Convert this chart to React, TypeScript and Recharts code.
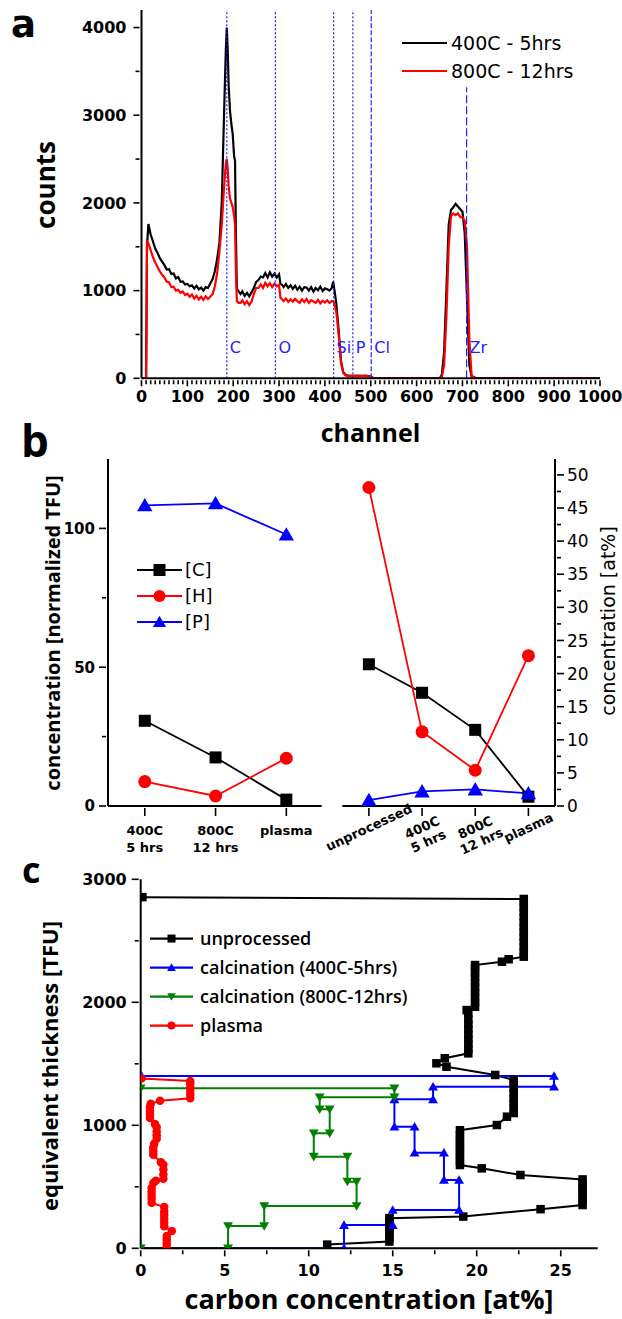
import React from 'react';
import { LineChart, Line, XAxis, YAxis, ReferenceLine, Legend } from 'recharts';

const TICK_FONT = "'DejaVu Sans', sans-serif";
const TITLE_FONT = "'Open Sans', sans-serif";

// ---------- panel a: spectrum ----------
const channels = [
  0, 10, 12, 15, 20, 25, 30, 35, 40, 45,
  50, 55, 60, 65, 70, 75, 80, 85, 90, 95,
  100, 105, 110, 115, 120, 125, 130, 135, 140, 145,
  150, 155, 160, 165, 170, 175, 178, 181, 184, 186,
  188, 190, 193, 196, 199, 202, 204, 206, 208, 212,
  216, 220, 225, 230, 235, 240, 245, 250, 255, 260,
  265, 270, 275, 280, 285, 290, 295, 300, 303, 306,
  310, 315, 320, 325, 330, 335, 340, 345, 350, 355,
  360, 365, 370, 375, 380, 385, 390, 395, 400, 405,
  410, 415, 418, 421, 425, 430, 435, 440, 445, 450,
  460, 470, 480, 490, 500, 505, 520, 640, 650, 655,
  660, 665, 670, 675, 680, 685, 690, 695, 700, 705,
  710, 715, 720, 730, 1000,
];
const counts400C = [
  0, 0, 1500, 1760, 1640, 1560, 1480, 1430, 1370, 1330,
  1290, 1240, 1245, 1190, 1195, 1140, 1155, 1100, 1105, 1070,
  1075, 1050, 1060, 1025, 1055, 1015, 1035, 1000, 1040, 1030,
  1080, 1130, 1220, 1360, 1550, 2000, 2600, 3200, 3750, 4000,
  3750, 3350, 3050, 2900, 2780, 2530, 2480, 1600, 1020, 990,
  960, 990, 940, 975, 935, 980, 1030, 1100, 1120, 1160,
  1150, 1200, 1150, 1210, 1160, 1195, 1150, 1185, 1080, 1070,
  1040, 1075, 1030, 1060, 1020, 1055, 1010, 1045, 1000, 1040,
  1035, 1000, 1040, 990, 1030, 1005, 1045, 995, 1025, 1015,
  1000, 1030, 1100, 1000, 850, 550, 200, 70, 40, 30,
  25, 30, 25, 30, 20, 5, 0, 0, 0, 40,
  300, 1000, 1750, 1920, 1950, 1990, 1960, 1930, 1900, 1650,
  900, 150, 20, 0, 0,
];
const counts800C = [
  0, 0, 1560, 1540, 1460, 1380, 1320, 1270, 1220, 1180,
  1150, 1100, 1095, 1040, 1045, 1000, 1010, 975, 990, 950,
  965, 930, 955, 910, 940, 900, 930, 895, 935, 905,
  930, 960, 1050, 1200, 1450, 1750, 2000, 2250, 2450, 2500,
  2400, 2200, 2050, 2000, 1950, 1850, 1750, 1200, 880, 860,
  860, 890, 845, 880, 835, 875, 960, 1030, 1030, 1070,
  1030, 1090, 1050, 1085, 1040, 1080, 1050, 1065, 920, 905,
  880, 910, 870, 900, 875, 905, 880, 860, 900, 870,
  905, 860, 890, 875, 860, 895, 855, 885, 865, 890,
  860, 880, 880, 850, 750, 500, 180, 60, 35, 25,
  30, 25, 30, 25, 20, 5, 0, 0, 0, 15,
  150, 700, 1500, 1850, 1880, 1860, 1880, 1840, 1830, 1800,
  1500, 450, 30, 0, 0,
];
const spectrumNames = ['400C - 5hrs', '800C - 12hrs'];
const elementLabels = ['C', 'O', 'Si', 'P', 'Cl', 'Zr'];
const elementChannels = [186, 292, 419, 461, 501, 709];
const channelTicks = Array.from({ length: 101 }, (_, i) => i * 10);
const countTicks = [0, 500, 1000, 1500, 2000, 2500, 3000, 3500, 4000];

// ---------- panel b: concentrations ----------
const treatments = [['400C', '5 hrs'], ['800C', '12 hrs'], ['plasma']];
const carbonTFU = [30.7, 17.5, 2.3];
const hydrogenTFU = [8.8, 3.6, 17.2];
const phosphorusTFU = [108.3, 109.0, 97.8];
const samples = [['unprocessed'], ['400C', '5 hrs'], ['800C', '12 hrs'], ['plasma']];
const carbonAt = [21.4, 17.1, 11.5, 1.4];
const hydrogenAt = [48.1, 11.2, 5.4, 22.7];
const phosphorusAt = [0.9, 2.2, 2.5, 1.9];
const elementNamesB = ['[C]', '[H]', '[P]'];
const tfuTicks = [0, 25, 50, 75, 100];
const atTicks = [0, 2.5, 5, 7.5, 10, 12.5, 15, 17.5, 20, 22.5, 25, 27.5, 30, 32.5, 35, 37.5, 40, 42.5, 45, 47.5, 50];

// ---------- panel c: depth profiles ----------
const unprocessedConc = [
  11.1, 14.8, 14.8, 14.8, 14.8, 14.8, 14.8, 14.8, 19.2, 23.8,
  26.3, 26.3, 26.3, 26.3, 26.3, 26.3, 26.3, 22.6, 20.3, 19.0,
  19.0, 19.0, 19.0, 19.0, 19.0, 19.0, 19.0, 19.0, 21.2, 21.8,
  22.2, 22.2, 22.2, 22.2, 22.2, 22.2, 22.2, 22.2, 21.1, 18.2,
  17.6, 18.1, 19.5, 19.5, 19.5, 19.5, 19.5, 19.5, 19.5, 19.5,
  19.5, 19.4, 19.9, 19.9, 19.9, 19.9, 19.9, 19.9, 19.9, 19.9,
  19.9, 19.9, 21.5, 21.9, 22.8, 22.8, 22.8, 22.8, 22.8, 22.8,
  22.8, 22.8, 22.8, 22.8, 22.8, 22.8, 22.8, 0.1,
];
const unprocessedDepth = [
  30, 55, 90, 120, 150, 180, 215, 245, 258, 318,
  352, 385, 420, 455, 490, 525, 560, 596, 650, 677,
  710, 745, 780, 815, 850, 885, 920, 960, 1002, 1070,
  1100, 1140, 1180, 1220, 1260, 1300, 1340, 1368, 1409, 1476,
  1504, 1545, 1585, 1620, 1660, 1700, 1740, 1780, 1820, 1860,
  1910, 1937, 1964, 2000, 2040, 2080, 2120, 2160, 2200, 2240,
  2275, 2303, 2330, 2350, 2371, 2410, 2450, 2490, 2530, 2570,
  2610, 2650, 2690, 2730, 2770, 2810, 2840, 2855,
];
const calc400Conc = [0, 12.1, 12.1, 15.0, 15.0, 18.95, 18.95, 18.05, 18.05, 16.3, 16.3, 15.1, 15.1, 17.4, 17.4, 24.6, 24.6, 0.05];
const calc400Depth = [0, 0, 189, 189, 311, 311, 555, 555, 777, 777, 989, 989, 1211, 1211, 1314, 1314, 1401, 1401];
const calc800Conc = [0, 5.2, 5.2, 7.35, 7.35, 12.85, 12.85, 12.3, 12.3, 10.3, 10.3, 11.25, 11.25, 10.65, 10.65, 15.1, 15.1, 0];
const calc800Depth = [0, 0, 181, 181, 344, 344, 542, 542, 745, 745, 935, 935, 1130, 1130, 1228, 1228, 1301, 1301];
const plasmaConc = [
  1.55, 1.55, 1.55, 1.55, 1.85, 1.4, 1.4, 1.4, 1.4, 1.4,
  1.4, 0.65, 0.65, 0.65, 0.65, 0.65, 0.75, 0.9, 1.35, 1.35,
  1.35, 1.35, 1.2, 0.75, 0.75, 0.75, 0.8, 0.95, 0.95, 0.95,
  0.95, 0.85, 0.55, 0.55, 0.55, 0.55, 0.6, 1.15, 2.95, 2.95,
  2.95, 2.95, 2.95, 2.95, 0.05,
];
const plasmaDepth = [
  10, 40, 70, 100, 140, 180, 210, 240, 270, 300,
  335, 370, 400, 430, 460, 490, 530, 550, 565, 600,
  640, 680, 700, 760, 790, 820, 850, 890, 920, 950,
  985, 1010, 1060, 1090, 1120, 1150, 1175, 1200, 1220, 1250,
  1280, 1310, 1340, 1360, 1380,
];
const profileNames = ['unprocessed', 'calcination (400C-5hrs)', 'calcination (800C-12hrs)', 'plasma'];
const concTicks = [0, 2.5, 5, 7.5, 10, 12.5, 15, 17.5, 20, 22.5, 25];
const depthTicks = [0, 500, 1000, 1500, 2000, 2500, 3000];

// ---------- helpers ----------
const frame = { stroke: '#000', strokeWidth: 2 };

type Side = 'bottom' | 'top' | 'left' | 'right';
interface TickSpec {
  side: Side;
  inward?: boolean;
  majorLen: number;
  minorLen?: number;
  isMajor?: (v: number) => boolean;
  label?: (v: number) => string[] | null;
  fontSize?: number;
  fontFamily?: string;
  fontWeight?: number;
  gap?: number;
  lineGap?: number;
  rotate?: number;
}

const makeTick = (s: TickSpec) => (props: any) => {
  const { x, y, payload } = props;
  const v = payload.value as number;
  const major = s.isMajor ? s.isMajor(v) : true;
  const len = major ? s.majorLen : s.minorLen ?? s.majorLen;
  const d = s.inward ? -1 : 1;
  let x2 = x;
  let y2 = y;
  if (s.side === 'bottom') y2 = y + d * len;
  else if (s.side === 'top') y2 = y - d * len;
  else if (s.side === 'left') x2 = x - d * len;
  else x2 = x + d * len;
  const lines = major && s.label ? s.label(v) : null;
  const fs = s.fontSize ?? 16;
  const gap = s.gap ?? 4;
  const out = s.inward ? 0 : len;
  const font = { fontSize: fs, fontFamily: s.fontFamily ?? TICK_FONT, fontWeight: s.fontWeight ?? 700, fill: '#000' };
  let text: React.ReactNode = null;
  if (lines && lines.length) {
    if (s.side === 'bottom') {
      const ty = y + out + gap;
      text = (
        <text x={x} y={ty} textAnchor="middle" transform={s.rotate ? `rotate(${s.rotate} ${x} ${ty + fs * 0.5})` : undefined} {...font}>
          {lines.map((l, i) => (
            <tspan key={i} x={x} dy={i === 0 ? fs * 0.85 : s.lineGap ?? fs * 1.2}>{l}</tspan>
          ))}
        </text>
      );
    } else if (s.side === 'left') {
      text = <text x={x - out - gap} y={y} dy="0.36em" textAnchor="end" {...font}>{lines[0]}</text>;
    } else if (s.side === 'right') {
      text = <text x={x + out + gap} y={y} dy="0.36em" textAnchor="start" {...font}>{lines[0]}</text>;
    }
  }
  return (
    <g>
      <line x1={x} y1={y} x2={x2} y2={y2} stroke="#000" strokeWidth={1.6} />
      {text}
    </g>
  );
};

type Shape = 'square' | 'circle' | 'up' | 'down';
function Marker({ cx, cy, shape, size, color }: { cx: number; cy: number; shape: Shape; size: number; color: string }) {
  if (cx == null || cy == null) return null;
  const h = size / 2;
  if (shape === 'square') return <rect x={cx - h} y={cy - h} width={size} height={size} fill={color} />;
  if (shape === 'circle') return <circle cx={cx} cy={cy} r={h} fill={color} />;
  if (shape === 'up')
    return <polygon points={`${cx},${cy - h * 1.05} ${cx - h * 1.1},${cy + h * 0.85} ${cx + h * 1.1},${cy + h * 0.85}`} fill={color} />;
  return <polygon points={`${cx},${cy + h * 1.05} ${cx - h * 1.1},${cy - h * 0.85} ${cx + h * 1.1},${cy - h * 0.85}`} fill={color} />;
}

const dotOf = (shape: Shape, size: number, color: string) => (p: any) => (
  <Marker key={`m-${p.index}`} cx={p.cx} cy={p.cy} shape={shape} size={size} color={color} />
);

const noOffsetLegend = { layout: 'vertical' as const, align: 'center' as const, verticalAlign: 'middle' as const };

function LegendRows({ names, colors, shapes, size, rowH, lineW, font }: {
  names: string[]; colors: string[]; shapes: (Shape | null)[]; size: number; rowH: number; lineW: number; font: React.CSSProperties;
}) {
  return (
    <div>
      {names.map((n, i) => (
        <div key={n} style={{ display: 'flex', alignItems: 'center', height: rowH }}>
          <svg width={lineW + 6} height={rowH} style={{ display: 'block' }}>
            <line x1={2} y1={rowH / 2} x2={lineW + 2} y2={rowH / 2} stroke={colors[i]} strokeWidth={2.2} />
            {shapes[i] && <Marker cx={lineW / 2 + 2} cy={rowH / 2} shape={shapes[i] as Shape} size={size} color={colors[i]} />}
          </svg>
          <span style={{ whiteSpace: 'nowrap', lineHeight: `${rowH}px`, ...font }}>{n}</span>
        </div>
      ))}
    </div>
  );
}

// ---------- panel a ----------
function PanelA() {
  const rows = channels.map((ch, i) => ({ ch, s400: counts400C[i], s800: counts800C[i] }));
  const isHundred = (v: number) => v % 100 === 0;
  return (
    <div style={{ position: 'absolute', left: 0, top: 0 }}>
      <LineChart width={622} height={410} data={rows} margin={{ top: 10, right: 22, bottom: 0, left: 81.5 }}>
        <XAxis xAxisId="x" dataKey="ch" type="number" domain={[0, 1000]} allowDataOverflow ticks={channelTicks} interval={0}
          height={31.7} tickSize={0} tickLine={false} axisLine={frame}
          tick={makeTick({ side: 'bottom', majorLen: 6, minorLen: 4, isMajor: isHundred, label: (v) => [String(v)], gap: 2, fontSize: 16 })} />
        <XAxis xAxisId="top" orientation="top" type="number" domain={[0, 1000]} allowDataOverflow ticks={channelTicks} interval={0}
          height={0} tickSize={0} tickLine={false} axisLine={frame}
          tick={makeTick({ side: 'top', inward: true, majorLen: 7, minorLen: 4, isMajor: isHundred })} />
        <YAxis yAxisId="y" type="number" domain={[0, 4200]} allowDataOverflow ticks={countTicks} interval={0}
          width={60} tickSize={0} tickLine={false} axisLine={frame}
          tick={makeTick({ side: 'left', majorLen: 6, minorLen: 4, isMajor: (v) => v % 1000 === 0, label: (v) => [String(v)], gap: 7, fontSize: 16 })} />
        <YAxis yAxisId="r" orientation="right" type="number" domain={[0, 4200]} allowDataOverflow ticks={countTicks} interval={0}
          width={0} tickSize={0} tickLine={false} axisLine={frame}
          tick={makeTick({ side: 'right', inward: true, majorLen: 7 })} />
        <Line xAxisId="x" yAxisId="y" dataKey="s400" name={spectrumNames[0]} stroke="#000" strokeWidth={2.2} dot={false} isAnimationActive={false} />
        <Line xAxisId="x" yAxisId="y" dataKey="s800" name={spectrumNames[1]} stroke="#ff0000" strokeWidth={2.2} dot={false} isAnimationActive={false} />
        {elementLabels.map((el, i) => {
          const zr = el === 'Zr';
          const dash = zr ? '8 3' : el === 'Cl' ? '5 2' : '2 2';
          const label = (p: any) => {
            const vb = p.viewBox || {};
            return (
              <text x={(vb.x ?? 0) + 3} y={(vb.y ?? 0) + (vb.height ?? 0) - 25} fill="#2323ff" fontFamily={TICK_FONT} fontSize={16}>{el}</text>
            );
          };
          return zr ? (
            <ReferenceLine key={el} xAxisId="x" yAxisId="y" segment={[{ x: elementChannels[i], y: 0 }, { x: elementChannels[i], y: 3320 }]}
              stroke="#2323ff" strokeWidth={1.2} strokeDasharray={dash} label={label} />
          ) : (
            <ReferenceLine key={el} xAxisId="x" yAxisId="y" x={elementChannels[i]} stroke="#2323ff" strokeWidth={1.2} strokeDasharray={dash} label={label} />
          );
        })}
        <Legend {...noOffsetLegend} wrapperStyle={{ left: 400, top: 29, width: 210 }}
          content={() => (
            <LegendRows names={spectrumNames} colors={['#000', '#ff0000']} shapes={[null, null]} size={0} rowH={28} lineW={45}
              font={{ fontFamily: TICK_FONT, fontSize: 19, color: '#000' }} />
          )} />
      </LineChart>
    </div>
  );
}

// ---------- panel b ----------
function PanelBLeft() {
  const rows = treatments.map((t, i) => ({ pos: i + 1, c: carbonTFU[i], h: hydrogenTFU[i], p: phosphorusTFU[i] }));
  const catLabel = (v: number) => treatments[v - 1] ?? null;
  return (
    <div style={{ position: 'absolute', left: 0, top: 430 }}>
      <LineChart width={330} height={450} data={rows} margin={{ top: 29, right: 8.3, bottom: 0, left: 48 }}>
        <XAxis xAxisId="x" dataKey="pos" type="number" domain={[0.48, 3.5]} allowDataOverflow ticks={[1, 2, 3]} interval={0}
          height={74} tickSize={0} tickLine={false} axisLine={frame}
          tick={makeTick({ side: 'bottom', majorLen: 8, label: catLabel, gap: 8, fontSize: 13, lineGap: 16.5 })} />
        <XAxis xAxisId="top" orientation="top" type="number" domain={[0.48, 3.5]} allowDataOverflow ticks={[1, 2, 3]} interval={0}
          height={0} tickSize={0} tickLine={false} axisLine={frame}
          tick={makeTick({ side: 'top', inward: true, majorLen: 7 })} />
        <YAxis yAxisId="y" type="number" domain={[0, 125]} allowDataOverflow ticks={tfuTicks} interval={0}
          width={60} tickSize={0} tickLine={false} axisLine={frame}
          tick={makeTick({ side: 'left', majorLen: 7, minorLen: 4, isMajor: (v) => v % 50 === 0, label: (v) => [String(v)], gap: 4, fontSize: 15 })} />
        <YAxis yAxisId="r" orientation="right" type="number" domain={[0, 125]} allowDataOverflow ticks={tfuTicks} interval={0}
          width={0} tickSize={0} tickLine={false} axisLine={frame}
          tick={makeTick({ side: 'right', inward: true, majorLen: 5 })} />
        <Line xAxisId="x" yAxisId="y" dataKey="c" stroke="#000" strokeWidth={1.8} dot={dotOf('square', 12, '#000')} isAnimationActive={false} />
        <Line xAxisId="x" yAxisId="y" dataKey="h" stroke="#ff0000" strokeWidth={1.8} dot={dotOf('circle', 13, '#ff0000')} isAnimationActive={false} />
        <Line xAxisId="x" yAxisId="y" dataKey="p" stroke="#0000ff" strokeWidth={1.8} dot={dotOf('up', 14, '#0000ff')} isAnimationActive={false} />
        <Legend {...noOffsetLegend} wrapperStyle={{ left: 135, top: 127, width: 120 }}
          content={() => (
            <LegendRows names={elementNamesB} colors={['#000', '#ff0000', '#0000ff']} shapes={['square', 'circle', 'up']} size={12} rowH={26} lineW={45}
              font={{ fontFamily: TICK_FONT, fontSize: 18, color: '#000', marginLeft: -1 }} />
          )} />
      </LineChart>
    </div>
  );
}

function PanelBRight() {
  const rows = samples.map((s, i) => ({ pos: i + 1, c: carbonAt[i], h: hydrogenAt[i], p: phosphorusAt[i] }));
  const catLabel = (v: number) => samples[v - 1] ?? null;
  return (
    <div style={{ position: 'absolute', left: 300, top: 430 }}>
      <LineChart width={322} height={450} data={rows} margin={{ top: 29, right: 27, bottom: 0, left: 42.3 }}>
        <XAxis xAxisId="x" dataKey="pos" type="number" domain={[0.5, 4.5]} allowDataOverflow ticks={[1, 2, 3, 4]} interval={0}
          height={74} tickSize={0} tickLine={false} axisLine={frame}
          tick={makeTick({ side: 'bottom', majorLen: 8, label: catLabel, gap: 5, fontSize: 13, lineGap: 15, rotate: -25 })} />
        <XAxis xAxisId="top" orientation="top" type="number" domain={[0.5, 4.5]} allowDataOverflow ticks={[1, 2, 3, 4]} interval={0}
          height={0} tickSize={0} tickLine={false} axisLine={frame}
          tick={makeTick({ side: 'top', inward: true, majorLen: 7 })} />
        <YAxis yAxisId="l" type="number" domain={[0, 52.4]} allowDataOverflow ticks={atTicks} interval={0}
          width={0} tickSize={0} tickLine={false} axisLine={frame}
          tick={makeTick({ side: 'left', inward: true, majorLen: 6, minorLen: 3, isMajor: (v) => v % 5 === 0 })} />
        <YAxis yAxisId="y" orientation="right" type="number" domain={[0, 52.4]} allowDataOverflow ticks={atTicks} interval={0}
          width={40} tickSize={0} tickLine={false} axisLine={frame}
          tick={makeTick({ side: 'right', majorLen: 7, minorLen: 4, isMajor: (v) => v % 5 === 0, label: (v) => [String(v)], gap: 3, fontSize: 17, fontWeight: 400 })} />
        <Line xAxisId="x" yAxisId="y" dataKey="c" stroke="#000" strokeWidth={1.8} dot={dotOf('square', 12, '#000')} isAnimationActive={false} />
        <Line xAxisId="x" yAxisId="y" dataKey="h" stroke="#ff0000" strokeWidth={1.8} dot={dotOf('circle', 13, '#ff0000')} isAnimationActive={false} />
        <Line xAxisId="x" yAxisId="y" dataKey="p" stroke="#0000ff" strokeWidth={1.8} dot={dotOf('up', 14, '#0000ff')} isAnimationActive={false} />
      </LineChart>
    </div>
  );
}

// ---------- panel c ----------
function PanelC() {
  const toPts = (xs: number[], ys: number[]) => xs.map((x, i) => ({ x, y: ys[i] }));
  const series = [
    { data: toPts(unprocessedConc, unprocessedDepth), color: '#000', shape: 'square' as Shape, size: 8.5 },
    { data: toPts(calc400Conc, calc400Depth), color: '#0000ff', shape: 'up' as Shape, size: 9 },
    { data: toPts(calc800Conc, calc800Depth), color: '#008000', shape: 'down' as Shape, size: 9 },
    { data: toPts(plasmaConc, plasmaDepth), color: '#ff0000', shape: 'circle' as Shape, size: 8.5 },
  ];
  const isFive = (v: number) => v % 5 === 0;
  return (
    <div style={{ position: 'absolute', left: 0, top: 860 }}>
      <LineChart width={622} height={459} margin={{ top: 19.3, right: 24.3, bottom: 40, left: 80.7 }}>
        <XAxis xAxisId="x" dataKey="x" type="number" domain={[0, 27.2]} allowDataOverflow ticks={concTicks} interval={0}
          height={30.7} tickSize={0} tickLine={false} axisLine={frame}
          tick={makeTick({ side: 'bottom', majorLen: 6, minorLen: 4, isMajor: isFive, label: (v) => [String(v)], gap: 6, fontSize: 16 })} />
        <XAxis xAxisId="top" orientation="top" type="number" domain={[0, 27.2]} allowDataOverflow ticks={concTicks} interval={0}
          height={0} tickSize={0} tickLine={false} axisLine={frame}
          tick={makeTick({ side: 'top', inward: true, majorLen: 6 })} />
        <YAxis yAxisId="y" type="number" domain={[0, 3000]} allowDataOverflow ticks={depthTicks} interval={0}
          width={60} tickSize={0} tickLine={false} axisLine={frame}
          tick={makeTick({ side: 'left', majorLen: 7, minorLen: 4, isMajor: (v) => v % 1000 === 0, label: (v) => [String(v)], gap: 5, fontSize: 16 })} />
        <YAxis yAxisId="r" orientation="right" type="number" domain={[0, 3000]} allowDataOverflow ticks={depthTicks} interval={0}
          width={0} tickSize={0} tickLine={false} axisLine={frame}
          tick={makeTick({ side: 'right', inward: true, majorLen: 5 })} />
        {series.map((s, i) => (
          <Line key={profileNames[i]} xAxisId="x" yAxisId="y" data={s.data} dataKey="y" name={profileNames[i]} stroke={s.color} strokeWidth={2}
            dot={dotOf(s.shape, s.size, s.color)} isAnimationActive={false} />
        ))}
        <Legend {...noOffsetLegend} wrapperStyle={{ left: 148, top: 64, width: 300 }}
          content={() => (
            <LegendRows names={profileNames} colors={series.map((s) => s.color)} shapes={series.map((s) => s.shape)} size={8} rowH={29.1} lineW={43}
              font={{ fontFamily: TITLE_FONT, fontWeight: 600, fontSize: 18, color: '#000', marginLeft: 3 }} />
          )} />
      </LineChart>
    </div>
  );
}

// ---------- titles ----------
function Titles() {
  const t = { fontFamily: TITLE_FONT, fontWeight: 700, fill: '#000' };
  return (
    <svg width={622} height={1319} style={{ position: 'absolute', left: 0, top: 0, pointerEvents: 'none' }}>
      <text x={11} y={37} fontSize={37} fontFamily={TICK_FONT} fontWeight={700} fill="#000">a</text>
      <text transform="translate(55,185) rotate(-90)" textAnchor="middle" fontSize={26} {...t}>counts</text>
      <text x={370.5} y={441.7} textAnchor="middle" fontSize={25} {...t}>channel</text>
      <text x={21} y={457} fontSize={44} {...t}>b</text>
      <text transform="translate(60,633) rotate(-90)" textAnchor="middle" fontSize={20} {...t}>concentration [normalized TFU]</text>
      <text transform="translate(615,621) rotate(-90)" textAnchor="middle" fontSize={19} fontFamily={TICK_FONT} fill="#000">concentration [at%]</text>
      <text x={22} y={883} fontSize={36} {...t}>c</text>
      <text transform="translate(58,1066) rotate(-90)" textAnchor="middle" fontSize={22} {...t}>equivalent thickness [TFU]</text>
      <text x={369} y={1309} textAnchor="middle" fontSize={27} {...t}>carbon concentration [at%]</text>
    </svg>
  );
}

export default function App() {
  return (
    <div style={{ position: 'absolute', left: 0, top: 0, width: 622, height: 1319, background: '#fff', overflow: 'hidden' }}>
      <PanelA />
      <PanelBLeft />
      <PanelBRight />
      <PanelC />
      <Titles />
    </div>
  );
}
